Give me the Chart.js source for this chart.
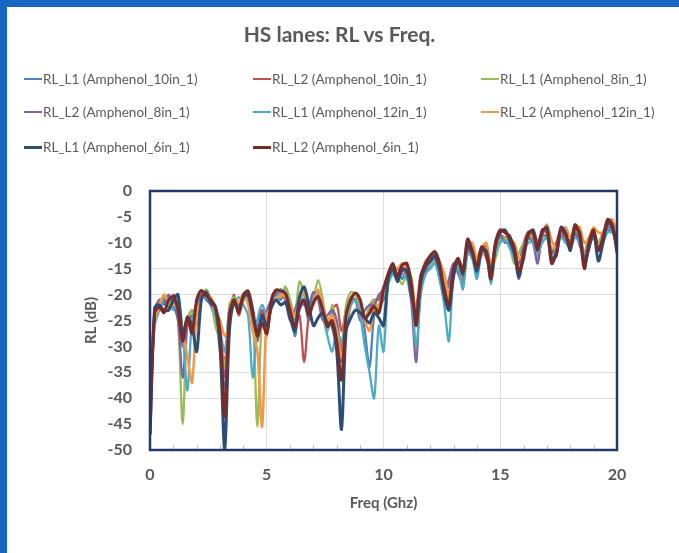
<!DOCTYPE html>
<html>
<head>
<meta charset="utf-8">
<script src="https://cdn.jsdelivr.net/npm/chart.js@4.4.1/dist/chart.umd.min.js"></script>
<style>
  html, body { margin: 0; padding: 0; background: #ffffff; }
  #wrap { position: relative; width: 679px; height: 553px; overflow: hidden; background: #fff; }
  #frameTop { position: absolute; left: 0; top: 0; width: 679px; height: 7px; background: #1667c2; }
  #frameLeft { position: absolute; left: 0; top: 0; width: 7px; height: 553px; background: #1667c2; }
  #title { position: absolute; left: 0; width: 679px; top: 21px; text-align: center;
           font-family: Lato, "Open Sans", sans-serif; font-weight: 700; font-size: 21px; color: #595959; }
  .lg { position: absolute; font-family: Lato, "Open Sans", sans-serif; font-size: 13.5px; color: #595959;
        white-space: nowrap; display: flex; align-items: center; }
  .lg i { display: inline-block; width: 18px; margin-right: 1px; }
  canvas { position: absolute; left: 0; top: 0; }
</style>
</head>
<body>
<div id="wrap">
  <canvas id="c" width="679" height="553"></canvas>
  <div id="frameTop"></div>
  <div id="frameLeft"></div>
  <div id="title"></div>
  <div id="legend"></div>
</div>
<script>
const chartTitle = "HS lanes: RL vs Freq.";
const xAxisTitle = "Freq (Ghz)";
const yAxisTitle = "RL (dB)";
const seriesNames = [
  "RL_L1 (Amphenol_10in_1)", "RL_L2 (Amphenol_10in_1)", "RL_L1 (Amphenol_8in_1)",
  "RL_L2 (Amphenol_8in_1)", "RL_L1 (Amphenol_12in_1)", "RL_L2 (Amphenol_12in_1)",
  "RL_L1 (Amphenol_6in_1)", "RL_L2 (Amphenol_6in_1)"
];
const seriesColors = ["#4F81BD", "#C0504D", "#9BBB59", "#8064A2", "#4BACC6", "#F79646", "#2C4D75", "#772C2A"];
const xTicks = [0, 5, 10, 15, 20];
const yTicks = [0, -5, -10, -15, -20, -25, -30, -35, -40, -45, -50];

const freq = [0,0.2,0.4,0.6,0.8,1,1.2,1.4,1.6,1.8,2,2.2,2.4,2.6,2.8,3,3.2,3.4,3.6,3.8,4,4.2,4.4,4.6,4.8,5,5.2,5.4,5.6,5.8,6,6.2,6.4,6.6,6.8,7,7.2,7.4,7.6,7.8,8,8.2,8.4,8.6,8.8,9,9.2,9.4,9.6,9.8,10,10.2,10.4,10.6,10.8,11,11.2,11.4,11.6,11.8,12,12.2,12.4,12.6,12.8,13,13.2,13.4,13.6,13.8,14,14.2,14.4,14.6,14.8,15,15.2,15.4,15.6,15.8,16,16.2,16.4,16.6,16.8,17,17.2,17.4,17.6,17.8,18,18.2,18.4,18.6,18.8,19,19.2,19.4,19.6,19.8,20];

const rlL1_10in = [-44,-24,-21,-22,-20.5,-21.5,-24,-30,-26,-25,-22,-20,-21,-22,-24,-31,-38,-25,-20.5,-22,-21,-20,-27,-25,-23,-25,-21,-20,-21,-18.5,-22,-28,-23,-21.5,-25,-20,-19.5,-24,-27,-23,-30,-33,-27,-22,-21,-22,-27,-34,-24,-22,-21,-17,-15.5,-15,-17,-15,-19,-23,-19,-15,-14,-13,-16,-20,-18,-14,-15,-17,-11,-11,-16,-12,-10.5,-15,-12,-9,-9,-10,-13,-14,-11,-9,-9,-12,-9,-8.5,-12,-10,-8.5,-9.5,-10,-8.5,-9,-12,-9,-9,-11,-8.5,-7.5,-8,-10];
const rlL2_10in = [-45,-25,-22,-21,-22.5,-20,-22,-27,-25,-23,-24,-20,-19.5,-22,-25,-29,-33,-24,-20,-24,-21,-20,-26,-29,-23,-28,-22,-19.5,-20,-21,-24,-26,-24,-33,-24,-21,-20,-22,-26,-23,-22,-27,-23,-20.5,-20,-22,-25,-23,-21,-21,-18.5,-17,-15,-16,-15,-16.5,-21,-22,-16,-15,-13,-12.5,-15,-21,-20,-14.5,-14,-17,-10,-12,-13,-11,-13,-15,-9.5,-8.5,-9,-8.5,-12,-14,-10,-8,-9,-10.5,-8,-8,-12,-10,-7.5,-9,-9.5,-7.5,-9,-13,-9,-8,-10,-8,-6.5,-7,-9];
const rlL1_8in = [-40,-25,-21.5,-20.5,-22,-21,-25,-45,-25,-23,-26,-21,-19,-21,-26,-29,-34,-22,-20.5,-22.5,-21,-21,-24,-45.5,-24,-26,-21,-20,-20.5,-18.5,-21,-24,-17.5,-20,-24,-21,-17.2,-21,-27,-22,-26,-30,-22,-19.5,-20,-23,-25,-22,-21,-23,-20,-18,-16,-16.5,-18,-16,-19,-24,-17,-16,-14.5,-13.5,-16,-18,-21,-15,-14.5,-18,-12,-11,-14,-12.5,-11,-14.5,-13,-9.5,-9,-10.5,-14,-12,-10,-9.5,-8.5,-13,-9,-8.5,-11,-11,-8.5,-9,-10.5,-8,-8.5,-12,-9,-8.5,-10,-8.5,-7,-7,-9.5];
const rlL2_8in = [-42,-23,-21,-21.5,-20,-22,-25,-36,-26,-24,-24,-20.5,-20,-22,-23,-28,-36,-25,-21,-22.5,-20,-21,-25,-27,-25,-23,-21,-20,-19,-21,-25,-23,-21,-22,-22,-19.5,-21,-25,-24,-23,-25,-31,-24,-21,-21,-25,-23,-22,-22,-20,-19,-16,-14.5,-17,-15.5,-15.5,-22,-33,-18,-16,-13,-13,-17,-20,-17,-14,-16,-18,-11,-13,-15,-12,-12,-15,-11,-8.5,-10,-10,-12,-17,-11,-9,-10,-14,-8.5,-9,-12,-11.5,-8,-10,-10,-8,-10.5,-12.5,-10,-8,-11,-9.5,-7,-7.5,-10];
const rlL1_12in = [-38,-26,-23,-20.5,-21,-23,-20.5,-27,-38.5,-25,-23,-21,-20,-21,-24,-27,-31,-23,-22,-20.5,-22,-24,-36,-25,-22,-24,-22,-21,-19,-20,-22,-25,-22,-19.5,-23,-22,-20,-24,-28,-31,-27,-29,-25,-22,-21,-24,-30,-35,-40,-26,-31,-18,-16,-17,-16,-17,-20,-30,-20,-16,-15,-14,-17,-22,-29,-16,-15,-19,-12,-13,-17,-12,-12,-18,-12,-10,-9.5,-11,-13,-15,-12,-10,-10,-12,-10,-9,-13,-11.5,-9,-10,-11,-9,-10,-12,-10.5,-9,-11.5,-10,-8,-8,-9];
const rlL2_12in = [-36,-25,-22,-20,-21.5,-22,-22,-27,-32,-37,-24,-21,-20,-20.5,-23,-25,-28,-26,-21,-21.5,-20,-22,-27,-31,-45.5,-24,-22.5,-21,-20,-20.5,-22,-24,-21,-19.5,-22,-22,-19,-22,-25,-24,-27,-32,-25,-21,-20,-21.5,-25,-27,-23,-22,-19.5,-16,-15,-15,-14,-15,-17,-24,-17,-13.5,-13,-12,-13.5,-16,-20,-16,-13,-15,-10.5,-10,-13,-11,-10,-14,-11,-8,-8,-9.5,-10,-13,-12,-8.5,-7.5,-9.5,-8,-6.5,-9.5,-11,-8,-7,-9,-7,-7,-10,-9,-7,-8,-8,-6,-5.5,-8];
const rlL1_6in = [-47,-22.5,-22,-23,-23,-21,-20,-28,-24.5,-26,-31,-21,-19.5,-21.5,-22.5,-30,-50,-27,-21.5,-23,-20.5,-20,-24,-27.5,-24,-26,-22.5,-21,-22,-21.5,-24.5,-27,-20.5,-18.5,-22,-26,-24.5,-23.5,-25.5,-26,-31,-46,-27,-24.5,-23,-23.5,-24.5,-25.5,-23.5,-24.5,-26,-17,-15,-17.5,-15,-15.5,-20,-24,-17.5,-14.5,-13.5,-12.5,-15,-20,-23,-16.5,-13.5,-16,-10.5,-12,-15.5,-11.5,-11.5,-16,-10.5,-8,-7.5,-9.5,-12,-16.5,-12,-8.5,-7.5,-10.5,-8,-7,-13,-12.5,-7,-8,-11.5,-7,-8,-14,-11,-8,-13.5,-10,-6,-7,-11];
const rlL2_6in = [-47,-23.5,-22.4,-23.5,-21,-20.4,-23,-29,-24.3,-27.5,-21,-19.2,-20.2,-21,-22.3,-27,-43.5,-24,-21,-23.5,-20,-19.3,-23,-28,-25.5,-27.5,-21,-19.1,-19.3,-19.7,-23,-26.2,-22.5,-21,-24,-21.5,-20.4,-23,-26.2,-25,-29,-36.5,-24,-21,-19.7,-21,-24.5,-23.6,-22.3,-23.6,-19,-16,-14,-16.5,-14.3,-14,-18,-26,-16.5,-14,-12.5,-11.7,-14,-19,-22,-15,-13,-15.5,-9.3,-11.5,-14.6,-10.8,-12,-17,-10,-7.5,-8,-8.8,-11,-15.5,-13,-8,-8,-11.4,-7.5,-7.5,-14,-12,-7.3,-8.5,-10.8,-6.5,-8.5,-15,-10,-7.5,-11.5,-9,-5.5,-6.5,-12];

const seriesValues = [rlL1_10in, rlL2_10in, rlL1_8in, rlL2_8in, rlL1_12in, rlL2_12in, rlL1_6in, rlL2_6in];
const seriesWidths = [2.3, 2.3, 2.3, 2.3, 2.3, 2.5, 3, 3];

document.getElementById('title').textContent = chartTitle;

// HTML legend in three columns (Excel-like)
const legendCols = [24, 253, 481];
const legendRows = [79, 112, 147];
const legendEl = document.getElementById('legend');
seriesNames.forEach((name, i) => {
  const d = document.createElement('div');
  d.className = 'lg';
  d.style.left = legendCols[i % 3] + 'px';
  d.style.top = (legendRows[Math.floor(i / 3)] - 9) + 'px';
  d.style.height = '18px';
  const sw = document.createElement('i');
  sw.style.height = (i >= 6 ? 3 : 2) + 'px';
  sw.style.background = seriesColors[i];
  const t = document.createElement('span');
  t.textContent = name;
  d.appendChild(sw); d.appendChild(t);
  legendEl.appendChild(d);
});

const datasets = seriesNames.map((name, i) => ({
  label: name,
  data: freq.map((f, k) => ({ x: f, y: seriesValues[i][k] })),
  borderColor: seriesColors[i],
  backgroundColor: seriesColors[i],
  borderWidth: seriesWidths[i],
  pointRadius: 0,
  tension: 0.3,
  fill: false,
  order: seriesNames.length - i
}));

const frameColor = '#25386a';
const framePlugin = {
  id: 'frame',
  afterDatasetsDraw(chart) {
    const { ctx, chartArea: a, scales } = chart;
    ctx.save();
    ctx.strokeStyle = '#b9bfd0';
    ctx.lineWidth = 1;
    for (let v = 1; v < 20; v++) {
      if (v % 5 === 0) continue;
      const x = Math.round(scales.x.getPixelForValue(v)) + 0.5;
      ctx.beginPath(); ctx.moveTo(x, a.bottom); ctx.lineTo(x, a.bottom - 5); ctx.stroke();
    }
    ctx.strokeStyle = frameColor;
    ctx.lineWidth = 2.5;
    ctx.strokeRect(a.left, a.top, a.right - a.left, a.bottom - a.top);
    ctx.restore();
  }
};

const visibleYGrid = [-15, -20, -35, -40];

new Chart(document.getElementById('c'), {
  type: 'line',
  data: { datasets },
  plugins: [framePlugin],
  options: {
    responsive: false,
    animation: false,
    layout: { padding: { left: 70, top: 191, right: 62, bottom: 41 } },
    plugins: { legend: { display: false }, title: { display: false }, tooltip: { enabled: false } },
    scales: {
      x: {
        type: 'linear', min: 0, max: 20,
        afterBuildTicks(s) { s.ticks = xTicks.map(v => ({ value: v })); },
        afterFit(s) { s.height = 62; },
        border: { display: false },
        grid: { drawTicks: false, color: c => (c.tick && c.tick.value > 0 && c.tick.value < 20) ? '#dcdcdc' : 'rgba(0,0,0,0)', lineWidth: 1 },
        ticks: { padding: 15, color: '#595959', font: { family: 'Lato', size: 16, weight: 'bold' }, maxRotation: 0 },
        title: { display: true, text: xAxisTitle, color: '#595959', padding: { top: 0, bottom: 0 },
                 font: { family: 'Lato', size: 15, weight: 'bold' } }
      },
      y: {
        type: 'linear', min: -50, max: 0,
        afterBuildTicks(s) { s.ticks = yTicks.map(v => ({ value: v })); },
        afterFit(s) { s.width = 80; },
        border: { display: false },
        grid: { drawTicks: false, color: c => (c.tick && visibleYGrid.includes(c.tick.value)) ? '#dcdcdc' : 'rgba(0,0,0,0)', lineWidth: 1 },
        ticks: { padding: 18, color: '#595959', font: { family: 'Lato', size: 16, weight: 'bold' } },
        title: { display: true, text: yAxisTitle, color: '#595959', padding: { top: 12, bottom: 0 },
                 font: { family: 'Lato', size: 15, weight: 'bold' } }
      }
    }
  }
});
</script>
</body>
</html>
